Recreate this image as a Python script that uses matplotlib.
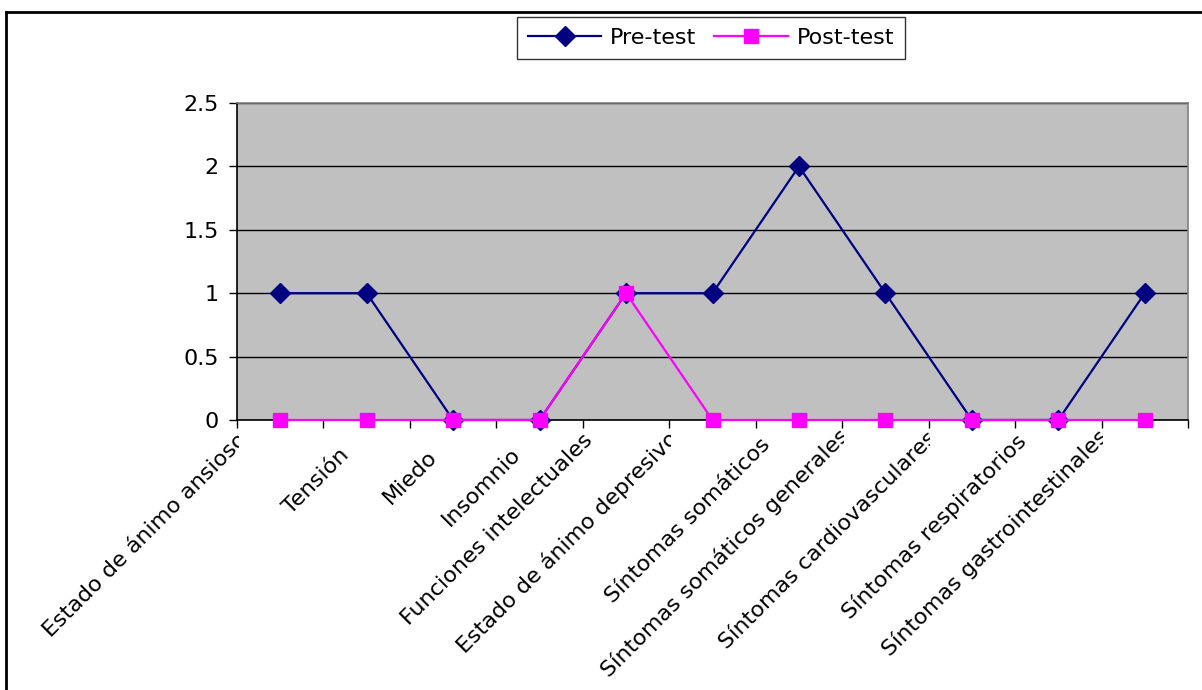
import numpy as np
import matplotlib.pyplot as plt
from matplotlib.transforms import Bbox, TransformedBbox, ScaledTranslation
from matplotlib.lines import Line2D

plt.rcParams['font.family'] = ['DejaVu Sans']

categorias = ["Estado de ánimo ansioso", "Tensión", "Miedo", "Insomnio",
              "Funciones intelectuales", "Estado de ánimo depresivo",
              "Síntomas somáticos", "Síntomas somáticos generales",
              "Síntomas cardiovasculares", "Síntomas respiratorios",
              "Síntomas gastrointestinales"]
pre_test = [1, 1, 0, 0, 1, 1, 2, 1, 0, 0, 1]
post_test = [0, 0, 0, 0, 1, 0, 0, 0, 0, 0, 0]
# labels that get cut off at the left tick of their category
recortadas = [0, 5, 7, 8, 10]

W, H = 1202, 690
fig = plt.figure(figsize=(W / 100, H / 100), dpi=100)
ax = fig.add_axes([237 / W, 1 - 420 / H, (1188 - 237) / W, (420 - 103) / H])

x = np.arange(len(categorias))
ax.plot(x, pre_test, color='#000080', lw=1.6, marker='D', ms=10,
        markerfacecolor='#000080', markeredgecolor='#000080', zorder=3, clip_on=False)
ax.plot(x, post_test, color='#FF00FF', lw=1.6, marker='s', ms=10,
        markerfacecolor='#FF00FF', markeredgecolor='#FF00FF', zorder=4, clip_on=False)

ax.set_facecolor('#C0C0C0')
ax.set_xlim(-0.5, len(categorias) - 0.5)
ax.set_ylim(0, 2.5)
ax.set_yticks([0, 0.5, 1, 1.5, 2, 2.5])
ax.set_yticklabels(['0', '0.5', '1', '1.5', '2', '2.5'], fontsize=16)
ax.yaxis.grid(True, color='black', lw=1)
ax.set_axisbelow(True)

ax.set_xticks(np.arange(len(categorias) + 1) - 0.5)
ax.set_xticklabels([])
ax.tick_params(axis='both', direction='out', length=6, width=1, color='black', pad=7)

for s in ['left', 'bottom']:
    ax.spines[s].set_color('black')
    ax.spines[s].set_linewidth(1.2)
for s in ['top', 'right']:
    ax.spines[s].set_color('#808080')
    ax.spines[s].set_linewidth(1.2)

# rotated category labels; longer names are pushed up and to the left
for i, nombre in enumerate(categorias):
    n = len(nombre)
    dx = -(22 + 0.93 * n)
    dy = -(31 - 0.93 * n)
    desplaz = ScaledTranslation(dx / 100, dy / 100, fig.dpi_scale_trans)
    t = ax.text(i, 0, nombre, rotation=45, rotation_mode='anchor',
                ha='right', va='top', fontsize=16,
                transform=ax.get_xaxis_transform() + desplaz)
    if i in recortadas:
        caja = TransformedBbox(Bbox([[-100, -5], [i - 0.5 + 0.02, 5]]),
                               ax.get_xaxis_transform())
        t.set_clip_box(caja)
        t.set_clip_on(True)

# legend
manejadores = [
    Line2D([], [], color='#000080', lw=1.6, marker='D', ms=10),
    Line2D([], [], color='#FF00FF', lw=1.6, marker='s', ms=10),
]
leg = fig.legend(manejadores, ['Pre-test', 'Post-test'], loc='center',
                 bbox_to_anchor=(711 / W, 1 - 38 / H), ncol=2, fontsize=16,
                 frameon=True, fancybox=False, edgecolor='black', handlelength=3.3,
                 columnspacing=0.8, handletextpad=0.4, borderpad=0.5)
leg.get_frame().set_linewidth(1)

# outer chart frame (left and top only)
fig.add_artist(Line2D([6 / W, 6 / W], [0, 1 - 12 / H], color='black', lw=2))
fig.add_artist(Line2D([6 / W, 1], [1 - 12 / H, 1 - 12 / H], color='black', lw=2))

fig.savefig('out.png', dpi=100)
